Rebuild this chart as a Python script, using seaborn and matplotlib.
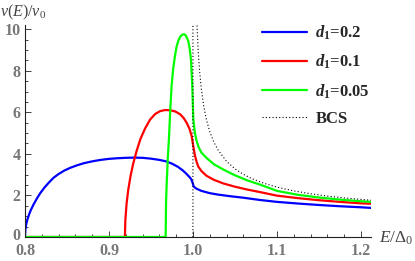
# Import libraries
import pandas as pd
import matplotlib
matplotlib.use("Agg")
import matplotlib.pyplot as plt
from matplotlib.ticker import MultipleLocator, FormatStrFormatter
from matplotlib.transforms import ScaledTranslation
import seaborn as sns

# -----------------------------
# Data
# -----------------------------
labels = [r"$\mathbfit{d}_{\mathbf{1}}$=0.2", r"$\mathbfit{d}_{\mathbf{1}}$=0.1",
          r"$\mathbfit{d}_{\mathbf{1}}$=0.05", "BCS"]

E_blue = [0.800, 0.8005, 0.801, 0.802, 0.803, 0.805, 0.807, 0.810, 0.814, 0.818,
          0.823, 0.828, 0.834, 0.840, 0.847, 0.854, 0.862, 0.870, 0.880, 0.890,
          0.900, 0.910, 0.920, 0.930, 0.940, 0.950, 0.960, 0.968, 0.975, 0.982,
          0.988, 0.992, 0.996, 0.998, 0.9995, 1.001, 1.004, 1.010, 1.020, 1.030,
          1.045, 1.060, 1.080, 1.100, 1.125, 1.150, 1.175, 1.200, 1.212]
nu_blue = [0.00, 0.35, 0.50, 0.71, 0.86, 1.10, 1.30, 1.55, 1.84, 2.10,
           2.37, 2.60, 2.85, 3.03, 3.20, 3.33, 3.45, 3.55, 3.64, 3.71,
           3.76, 3.79, 3.81, 3.82, 3.81, 3.77, 3.71, 3.64, 3.53, 3.38,
           3.20, 3.05, 2.88, 2.78, 2.62, 2.42, 2.33, 2.22, 2.11, 2.04,
           1.96, 1.89, 1.78, 1.69, 1.61, 1.54, 1.48, 1.43, 1.40]

E_red = [0.800, 0.919, 0.9195, 0.921, 0.923, 0.926, 0.929, 0.933, 0.9375, 0.943,
         0.949, 0.955, 0.961, 0.967, 0.973, 0.979, 0.985, 0.989, 0.9925, 0.996,
         0.9985, 1.0005, 1.0025, 1.0045, 1.0065, 1.010, 1.016, 1.025, 1.036, 1.050,
         1.065, 1.080, 1.100, 1.125, 1.150, 1.175, 1.200, 1.212]
nu_red = [0.00, 0.00, 0.80, 1.61, 2.28, 3.00, 3.55, 4.15, 4.72, 5.22,
          5.65, 5.92, 6.06, 6.11, 6.10, 6.04, 5.90, 5.72, 5.50, 5.20,
          4.85, 4.35, 3.90, 3.60, 3.38, 3.18, 2.95, 2.75, 2.58, 2.42,
          2.28, 2.16, 1.99, 1.87, 1.77, 1.69, 1.62, 1.60]

E_green = [0.800, 0.9675, 0.968, 0.9687, 0.970, 0.9714, 0.973, 0.9746, 0.9765, 0.9786,
           0.9805, 0.9825, 0.985, 0.9875, 0.9895, 0.9915, 0.9944, 0.9962, 0.9976, 0.9992,
           1.0004, 1.0024, 1.0045, 1.007, 1.0103, 1.0163, 1.025, 1.036, 1.050, 1.065,
           1.080, 1.100, 1.125, 1.150, 1.175, 1.200, 1.212]
nu_green = [0.00, 0.00, 1.70, 2.50, 3.75, 4.72, 6.10, 7.28, 8.10, 8.72,
            9.15, 9.44, 9.65, 9.74, 9.76, 9.70, 9.44, 9.05, 8.56, 7.28,
            5.70, 5.00, 4.60, 4.30, 4.05, 3.80, 3.50, 3.25, 2.97, 2.72,
            2.52, 2.22, 2.03, 1.90, 1.80, 1.72, 1.69]

E_bcs = [1.000, 1.000, 1.0045, 1.005, 1.0065, 1.008, 1.010, 1.013, 1.016, 1.020,
         1.025, 1.030, 1.040, 1.050, 1.060, 1.070, 1.085, 1.100, 1.120, 1.140,
         1.160, 1.180, 1.200, 1.212]
nu_bcs = [0.00, 12.0, 10.6, 10.04, 8.81, 7.95, 7.12, 6.26, 5.66, 5.07,
          4.56, 4.18, 3.64, 3.28, 3.02, 2.81, 2.58, 2.40, 2.22, 2.08,
          1.97, 1.88, 1.81, 1.77]

x_ticks = [0.8, 0.9, 1.0, 1.1, 1.2]
y_ticks = [0, 2, 4, 6, 8, 10]

# Set seaborn style, then fonts
sns.set_theme(style="white")
plt.rcParams['font.family'] = ['Liberation Serif', 'DejaVu Serif']
plt.rcParams['mathtext.fontset'] = 'custom'
plt.rcParams['mathtext.rm'] = 'Liberation Serif'
plt.rcParams['mathtext.it'] = 'Liberation Serif:italic'
plt.rcParams['mathtext.bf'] = 'Liberation Serif:bold'
plt.rcParams['mathtext.bfit'] = 'Liberation Serif:italic:bold'

# -----------------------------
# Plot
# -----------------------------
fig = plt.figure(figsize=(4.15, 2.61), dpi=100)
ax = fig.add_axes([0.0602, 0.092, 0.8337, 0.812])

sns.lineplot(x=E_blue, y=nu_blue, ax=ax, color='#0000ff', lw=1.6,
             estimator=None, sort=False, label=labels[0])
sns.lineplot(x=E_red, y=nu_red, ax=ax, color='#ff0000', lw=1.6,
             estimator=None, sort=False, label=labels[1])
sns.lineplot(x=E_green, y=nu_green, ax=ax, color='#00ff00', lw=1.6,
             estimator=None, sort=False, label=labels[2])
sns.lineplot(x=E_bcs, y=nu_bcs, ax=ax, color='black', lw=0.8,
             linestyle=(0, (1, 2)), estimator=None, sort=False, label=labels[3])

ax.set_xlim(0.8, 1.212)
ax.set_ylim(0, 10.2)

# Mathematica-like axes
for s in ['top', 'right']:
    ax.spines[s].set_visible(False)
for s in ['left', 'bottom']:
    ax.spines[s].set_color('#222222')
    ax.spines[s].set_linewidth(0.8)

ax.set_xticks(x_ticks)
ax.set_yticks(y_ticks)
ax.xaxis.set_major_formatter(FormatStrFormatter('%.1f'))
ax.xaxis.set_minor_locator(MultipleLocator(0.02))
ax.yaxis.set_minor_locator(MultipleLocator(0.5))
ax.tick_params(which='both', direction='in', color='#222222', width=0.6,
               labelcolor='#777777', labelsize=11.5, left=True, bottom=True)
ax.tick_params(which='major', length=4)
ax.tick_params(which='minor', length=2)
ax.tick_params(axis='x', which='major', pad=4.4)
ax.tick_params(axis='y', which='major', pad=3)
for lab in ax.get_xticklabels() + ax.get_yticklabels():
    lab.set_fontweight('bold')

# nudge the y "0" label up a little so it clears "0.8"
zero_lab = ax.yaxis.get_major_ticks()[0].label1
zero_lab.set_transform(zero_lab.get_transform()
                       + ScaledTranslation(0, 3 / 100, fig.dpi_scale_trans))

ax.set_xlabel('')
ax.set_ylabel('')
fig.text(0.0, 0.952, r"$\nu(E)/\nu_0$", ha='left', va='center',
         fontsize=11.5, color='#444444')
fig.text(0.914, 0.088, r"$E/\Delta_0$", ha='left', va='center',
         fontsize=12.5, color='#444444')

ax.legend(loc='upper left', bbox_to_anchor=(262 / 415, 1 - 24 / 261),
          bbox_transform=fig.transFigure, frameon=False,
          prop={'family': 'Liberation Serif', 'weight': 'bold', 'size': 12},
          handlelength=2.7, handletextpad=0.5, labelspacing=0.64,
          borderpad=0, borderaxespad=0)

fig.savefig('out.png', dpi=100)
